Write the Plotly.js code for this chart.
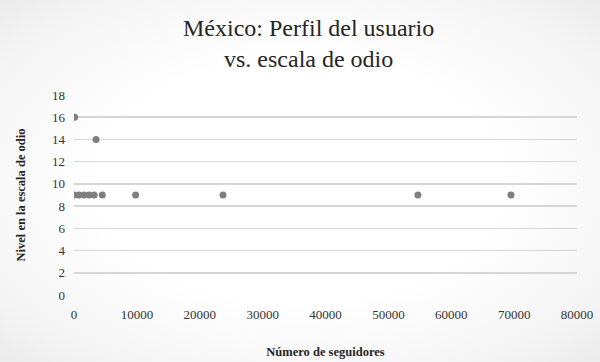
<!DOCTYPE html>
<html>
<head>
<meta charset="utf-8">
<script src="https://cdn.plot.ly/plotly-3.0.1.min.js"></script>
<style>
html, body { margin:0; padding:0; }
body { width:600px; height:362px; background: radial-gradient(ellipse 75% 75% at 50% 50%, #ffffff 0%, #ffffff 45%, #f4f4f4 78%, #e8e8e8 100%); }
#chart { width:600px; height:362px; }
</style>
</head>
<body>
<div id="chart"></div>
<script>
const seguidores = [100, 3500, 0, 800, 1600, 2400, 3200, 4500, 9800, 23700, 54700, 69500];
const nivelOdio  = [16, 14, 9, 9, 9, 9, 9, 9, 9, 9, 9, 9];
const xTicks = [0, 10000, 20000, 30000, 40000, 50000, 60000, 70000, 80000];
const yTicks = [0, 2, 4, 6, 8, 10, 12, 14, 16, 18];
const chartTitle = 'México: Perfil del usuario<br>vs. escala de odio';

const serif = 'Liberation Serif';

const data = [{
  type: 'scatter',
  mode: 'markers',
  x: seguidores,
  y: nivelOdio,
  marker: { color: '#7f7f7f', size: 7 },
  hoverinfo: 'x+y'
}];

function makeLayout() {
  return {
    width: 600, height: 362,
    font: { family: serif, size: 12 },
    paper_bgcolor: 'rgba(0,0,0,0)',
    plot_bgcolor: 'rgba(0,0,0,0)',
    margin: { l: 74, r: 23, t: 95, b: 67 },
    showlegend: false,
    annotations: [{
      text: chartTitle,
      xref: 'paper', yref: 'paper',
      x: 0.467, y: 1.26,
      xanchor: 'center', yanchor: 'middle',
      showarrow: false,
      font: { family: serif, size: 24, color: '#262626' }
    }],
    xaxis: {
      range: [0, 80000],
      tickvals: xTicks,
      ticktext: xTicks.map(String),
      showgrid: false,
      zeroline: false,
      showline: false,
      ticks: '',
      ticklabelstandoff: 10,
      tickfont: { family: serif, size: 13, color: '#333333' },
      automargin: false,
      title: { text: '<b>Número de seguidores</b>', font: { family: serif, size: 12.5, color: '#262626' }, standoff: 26 }
    },
    yaxis: {
      range: [0, 18],
      tickvals: yTicks,
      ticktext: yTicks.map(String),
      showgrid: true,
      gridcolor: '#d6d6d6',
      gridwidth: 1.5,
      zeroline: false,
      showline: false,
      ticks: '',
      ticklabelstandoff: 8,
      tickfont: { family: serif, size: 13, color: '#333333' },
      automargin: false,
      title: { text: '<b>Nivel en la escala de odio</b>', font: { family: serif, size: 12.5, color: '#262626' }, standoff: 23 }
    }
  };
}

const cfg = { displayModeBar: false, staticPlot: true };
Plotly.newPlot('chart', data, makeLayout(), cfg);

if (document.fonts && document.fonts.load) {
  Promise.all([
    document.fonts.load('13px "Liberation Serif"'),
    document.fonts.load('24px "Liberation Serif"'),
    document.fonts.load('bold 13px "Liberation Serif"')
  ]).then(function () {
    Plotly.react('chart', data, makeLayout(), cfg);
  }).catch(function () {});
}
</script>
</body>
</html>
